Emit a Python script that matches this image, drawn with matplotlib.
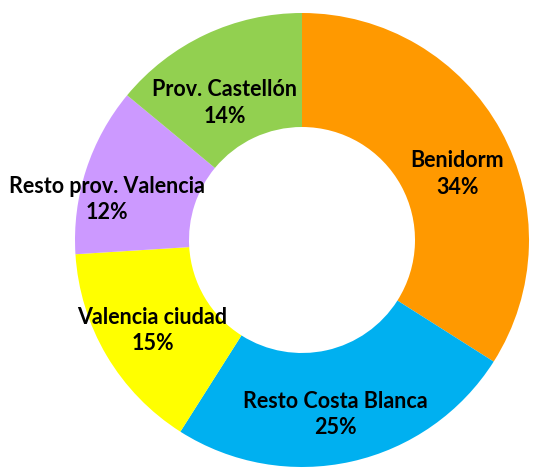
import matplotlib.pyplot as plt

# datos del grafico de anillo
zonas = ["Benidorm", "Resto Costa Blanca", "Valencia ciudad",
         "Resto prov. Valencia", "Prov. Castellón"]
porcentajes = [34, 25, 15, 12, 14]
colores = ["#FF9900", "#00B0F0", "#FFFF00", "#CC99FF", "#92D050"]

plt.rcParams['font.family'] = ['Lato', 'DejaVu Sans']

fig = plt.figure(figsize=(5.36, 4.69), dpi=100)
ax = fig.add_axes([0, 0, 1, 1])

cuenta = iter(zonas)


def etiqueta(pct):
    return "%s\n%d%%" % (next(cuenta), round(pct))


cunas, textos, autotextos = ax.pie(
    porcentajes, colors=colores, startangle=90, counterclock=False,
    center=(302, 229), radius=227, autopct=etiqueta, pctdistance=0.75,
    wedgeprops=dict(width=114, linewidth=0),
    textprops=dict(fontsize=15.5, fontweight='bold', color='black',
                   linespacing=1.3))

# ajustes de posicion de etiquetas como en Excel
desplaz = [(6, -16), (-4, -8), (-3, -4), (0, -12), (-5, -17)]
for t, (dx, dy) in zip(autotextos, desplaz):
    x, y = t.get_position()
    t.set_position((x + dx, y + dy))
# la etiqueta que no cabe se mete dentro del area
x, y = autotextos[3].get_position()
autotextos[3].set_position((107, y))

ax.set_xlim(0, 536)
ax.set_ylim(0, 469)
ax.set_aspect('equal')
ax.axis('off')

fig.savefig("out.png", dpi=100)
